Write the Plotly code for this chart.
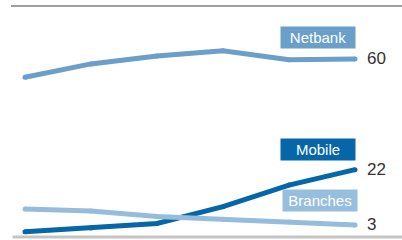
import plotly.graph_objects as go

periods = [0, 1, 2, 3, 4, 5]
netbank = [53.7, 58.3, 61.0, 62.8, 59.7, 60]
mobile = [0.7, 2.0, 3.5, 9.3, 16.7, 22]
branches = [8.5, 7.8, 5.9, 5.0, 4.0, 3]

series = [
    ("Netbank", netbank, "#6a9fca", "#6a9fca", 10, 1),
    ("Mobile", mobile, "#0566a8", "#0566a8", 9, 1),
    ("Branches", branches, "#95bcdc", "#97bedc", 13, 3),
]
end_labels = ["60", "22", "3"]

fig = go.Figure()
for name, vals, lc, bc, ysh, xsh in series:
    fig.add_trace(go.Scatter(
        x=periods, y=vals, mode="lines+markers", name=name,
        line=dict(color=lc, width=5),
        marker=dict(color=lc, size=5, line=dict(width=0)),
        hoverinfo="skip", showlegend=False,
    ))

for (name, vals, lc, bc, ysh, xsh), lab in zip(series, end_labels):
    fig.add_annotation(
        x=periods[-1], y=vals[-1], text=name, showarrow=False,
        xanchor="right", yanchor="bottom", xshift=xsh, yshift=ysh,
        width=74, height=21, borderpad=0, bgcolor=bc, align="center",
        font=dict(family="Liberation Sans, Arial, sans-serif", size=15, color="#ffffff"),
    )
    fig.add_annotation(
        x=periods[-1], y=vals[-1], text=lab, showarrow=False,
        xanchor="left", yanchor="middle", xshift=10,
        font=dict(family="Liberation Sans, Arial, sans-serif", size=17, color="#333333"),
    )

fig.add_shape(type="line", xref="paper", yref="paper", x0=0, x1=1, y0=1, y1=1,
              line=dict(color="#7f7f7f", width=1.5))
fig.add_shape(type="line", xref="paper", yref="paper", x0=0.004, x1=1, y0=0, y1=0,
              line=dict(color="#c4c4c4", width=3))

fig.update_xaxes(range=[-0.212, 5.712], visible=False, fixedrange=True)
fig.update_yaxes(range=[-1.13, 78.19], visible=False, fixedrange=True)
fig.update_layout(
    width=402, height=240,
    margin=dict(l=11, r=0, t=6, b=3),
    paper_bgcolor="white", plot_bgcolor="white",
)
fig.write_html(
    "out.html",
    config={"displayModeBar": False},
    post_script="document.body.style.margin='0';document.body.style.overflow='hidden';",
)
